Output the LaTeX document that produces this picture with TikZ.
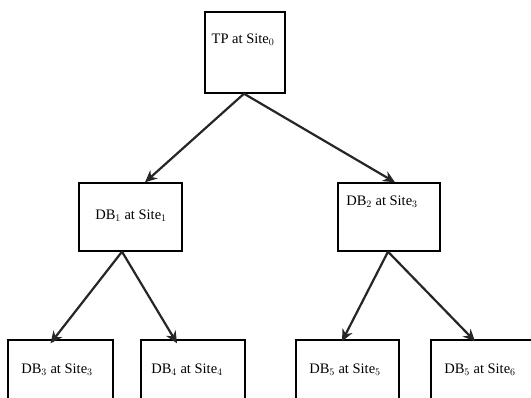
\documentclass[tikz,border=0pt]{standalone}
\usepackage{fontspec}
\setmainfont{Liberation Serif}
\usetikzlibrary{arrows.meta}
\begin{document}
\begin{tikzpicture}[x=1pt,y=-1pt,
  box/.style={draw=black,line width=1.4pt,rectangle,inner sep=0pt},
  lbl/.style={inner sep=0pt,font=\fontsize{14.5}{16}\selectfont},
  conn/.style={draw=black!85,line width=2.2pt,-{Stealth[length=12pt,width=11pt]}}]
\useasboundingbox (0,0) rectangle (531,398);
\fill[white] (0,0) rectangle (531,398);
\clip (0,0) rectangle (531,398);
\node[box,minimum width=80pt,minimum height=81pt] (TP) at (245,52.5) {};
\node[box,minimum width=103pt,minimum height=68pt] (DB1) at (130.5,217) {};
\node[box,minimum width=102pt,minimum height=68pt] (DB2) at (389,217) {};
\node[box,minimum width=105pt,minimum height=80pt] (DB3) at (60.5,380) {};
\node[box,minimum width=104pt,minimum height=80pt] (DB4) at (193,380) {};
\node[box,minimum width=103pt,minimum height=80pt] (DB5) at (347.5,380) {};
\node[box,minimum width=104pt,minimum height=80pt] (DB6) at (483,380) {};
\node[lbl] (tTP) at (243,40) {TP at Site$_0$};
\node[lbl] (tDB1) at (131,216) {DB$_1$ at Site$_1$};
\node[lbl] (tDB2) at (382,202) {DB$_2$ at Site$_3$};
\node[lbl] (tDB3) at (57,370) {DB$_3$ at Site$_3$};
\node[lbl] (tDB4) at (187,370) {DB$_4$ at Site$_4$};
\node[lbl] (tDB5) at (345,370) {DB$_5$ at Site$_5$};
\node[lbl] (tDB6) at (480,370) {DB$_5$ at Site$_6$};
\coordinate (sTP) at ([xshift=-1pt]TP.south);
\coordinate (sDB1) at ([xshift=-8.5pt]DB1.south);
\coordinate (sDB2) at ([xshift=-1pt]DB2.south);
\coordinate (eDB1) at ([xshift=14.5pt]DB1.north);
\coordinate (eDB2) at ([xshift=6pt]DB2.north);
\coordinate (eDB3) at ([xshift=-10pt,yshift=-4pt]DB3.north);
\coordinate (eDB4) at ([xshift=-16pt,yshift=-4pt]DB4.north);
\coordinate (eDB5) at ([xshift=-5.5pt,yshift=-2pt]DB5.north);
\coordinate (eDB6) at ([xshift=-8pt,yshift=-2pt]DB6.north);
\draw[conn] (sTP) -- (eDB1);
\draw[conn] (sTP) -- (eDB2);
\draw[conn] (sDB1) -- (eDB3);
\draw[conn] (sDB1) -- (eDB4);
\draw[conn] (sDB2) -- (eDB5);
\draw[conn] (sDB2) -- (eDB6);
\end{tikzpicture}
\end{document}
